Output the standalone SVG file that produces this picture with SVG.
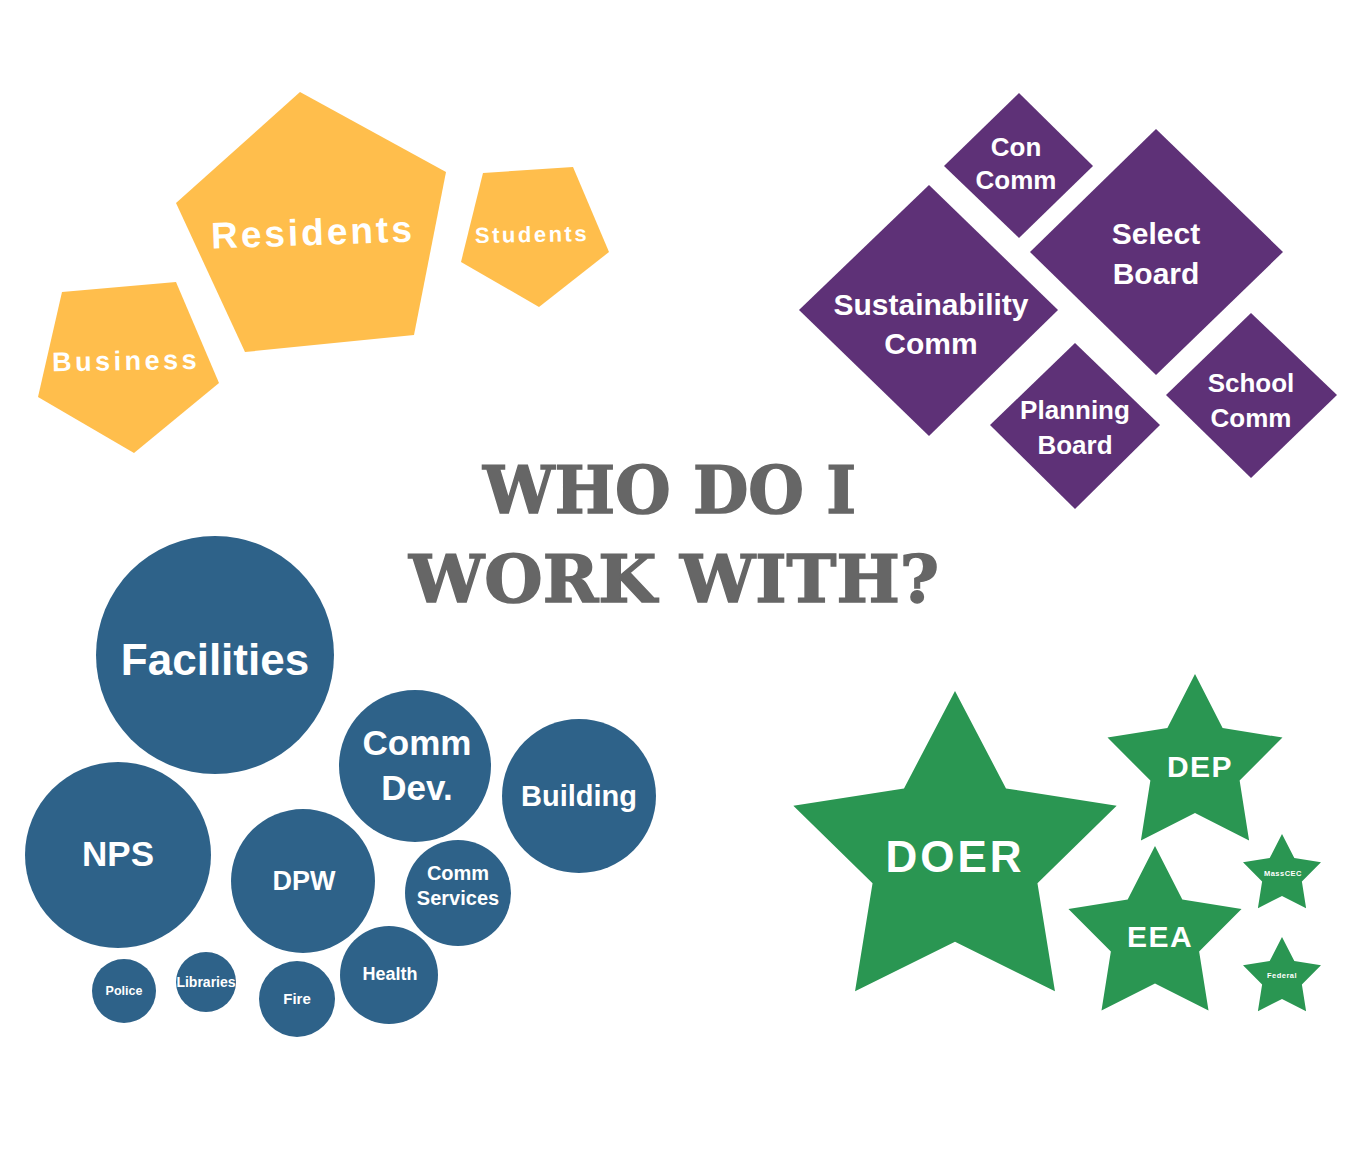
<svg xmlns="http://www.w3.org/2000/svg" width="1360" height="1158" viewBox="0 0 1360 1158">
<style>
.yel{fill:#FFBE4C}
.pur{fill:#5E3177}
.blu{fill:#2E6289}
.grn{fill:#2A9652}
.lbl{fill:#FFFFFF;font-family:"Liberation Sans",Arial,sans-serif;font-weight:bold;text-anchor:middle}
.title{fill:#666666;stroke:#666666;stroke-width:1.5;font-family:"DejaVu Serif",serif;font-weight:bold}
</style>
<defs>
<path id="star" d="M0,-100 L30,-41.3 L95.1,-30.9 L48.5,15.8 L58.8,80.9 L0,51 L-58.8,80.9 L-48.5,15.8 L-95.1,-30.9 L-30,-41.3 Z"/>
</defs>
<rect x="0" y="0" width="1360" height="1158" fill="#FFFFFF"/>
<g id="connectors"></g>

<!-- Yellow pentagons -->
<g id="residents">
<polygon class="yel" points="300,92 446,172 414,335 245,352 176,203"/>
<text class="lbl" x="313" y="245" font-size="37" letter-spacing="3" transform="rotate(-2 313 235)">Residents</text>
</g>
<g id="students">
<polygon class="yel" points="483,173 573,167 609,252 539,307 461,262"/>
<text class="lbl" x="532" y="242" font-size="22" letter-spacing="2.5" transform="rotate(-1 532 235)">Students</text>
</g>
<g id="business">
<polygon class="yel" points="62,292 176,282 219,383 134,453 38,397"/>
<text class="lbl" x="126" y="370" font-size="27" letter-spacing="3.5" transform="rotate(-1 126 360)">Business</text>
</g>

<!-- Purple diamonds -->
<g id="con-comm">
<polygon class="pur" points="1019,93 1093,166 1019,238 944,166"/>
<text class="lbl" x="1016" y="156" font-size="26">Con</text>
<text class="lbl" x="1016" y="189" font-size="26">Comm</text>
</g>
<g id="select-board">
<polygon class="pur" points="1156,129 1283,252 1156,375 1030,252"/>
<text class="lbl" x="1156" y="244" font-size="30">Select</text>
<text class="lbl" x="1156" y="284" font-size="30">Board</text>
</g>
<g id="sustainability-comm">
<polygon class="pur" points="929,185 1058,310 929,436 799,310"/>
<text class="lbl" x="931" y="315" font-size="30">Sustainability</text>
<text class="lbl" x="931" y="354" font-size="30">Comm</text>
</g>
<g id="planning-board">
<polygon class="pur" points="1075,343 1160,425 1075,509 990,425"/>
<text class="lbl" x="1075" y="419" font-size="26">Planning</text>
<text class="lbl" x="1075" y="454" font-size="26">Board</text>
</g>
<g id="school-comm">
<polygon class="pur" points="1251,313 1337,395 1251,478 1166,395"/>
<text class="lbl" x="1251" y="392" font-size="26">School</text>
<text class="lbl" x="1251" y="427" font-size="26">Comm</text>
</g>

<!-- Title -->
<g id="title">
<text class="title" x="483" y="513" font-size="66" textLength="373" lengthAdjust="spacingAndGlyphs">WHO DO I</text>
<text class="title" x="409" y="602" font-size="66" textLength="530" lengthAdjust="spacingAndGlyphs">WORK WITH?</text>
</g>

<!-- Blue circles -->
<g id="facilities">
<circle class="blu" cx="215" cy="655" r="119"/>
<text class="lbl" x="215" y="675" font-size="44">Facilities</text>
</g>
<g id="comm-dev">
<circle class="blu" cx="415" cy="766" r="76"/>
<text class="lbl" x="417" y="755" font-size="35">Comm</text>
<text class="lbl" x="417" y="800" font-size="35">Dev.</text>
</g>
<g id="building">
<circle class="blu" cx="579" cy="796" r="77"/>
<text class="lbl" x="579" y="806" font-size="29">Building</text>
</g>
<g id="nps">
<circle class="blu" cx="118" cy="855" r="93"/>
<text class="lbl" x="118" y="866" font-size="35">NPS</text>
</g>
<g id="dpw">
<circle class="blu" cx="303" cy="881" r="72"/>
<text class="lbl" x="304" y="890" font-size="27">DPW</text>
</g>
<g id="comm-services">
<circle class="blu" cx="458" cy="893" r="53"/>
<text class="lbl" x="458" y="880" font-size="20">Comm</text>
<text class="lbl" x="458" y="905" font-size="20">Services</text>
</g>
<g id="health">
<circle class="blu" cx="389" cy="975" r="49"/>
<text class="lbl" x="390" y="980" font-size="18">Health</text>
</g>
<g id="fire">
<circle class="blu" cx="297" cy="999" r="38"/>
<text class="lbl" x="297" y="1004" font-size="15">Fire</text>
</g>
<g id="police">
<circle class="blu" cx="124" cy="991" r="32"/>
<text class="lbl" x="124" y="995" font-size="12.5">Police</text>
</g>
<g id="libraries">
<circle class="blu" cx="206" cy="982" r="30"/>
<text class="lbl" x="206" y="987" font-size="14">Libraries</text>
</g>

<!-- Green stars -->
<g id="doer">
<use href="#star" class="grn" transform="translate(955,857) scale(1.70,1.66)"/>
<text class="lbl" x="955" y="872" font-size="44" letter-spacing="3">DOER</text>
</g>
<g id="dep">
<use href="#star" class="grn" transform="translate(1195,766) scale(0.92)"/>
<text class="lbl" x="1200" y="777" font-size="30" letter-spacing="1.5">DEP</text>
</g>
<g id="eea">
<use href="#star" class="grn" transform="translate(1155,937) scale(0.91)"/>
<text class="lbl" x="1160" y="947" font-size="30" letter-spacing="1.5">EEA</text>
</g>
<g id="masscec">
<use href="#star" class="grn" transform="translate(1282,875) scale(0.41)"/>
<text class="lbl" x="1283" y="876" font-size="7.5" letter-spacing="0.5">MassCEC</text>
</g>
<g id="federal">
<use href="#star" class="grn" transform="translate(1282,978) scale(0.41)"/>
<text class="lbl" x="1282" y="978" font-size="7.5" letter-spacing="0.5">Federal</text>
</g>
</svg>
